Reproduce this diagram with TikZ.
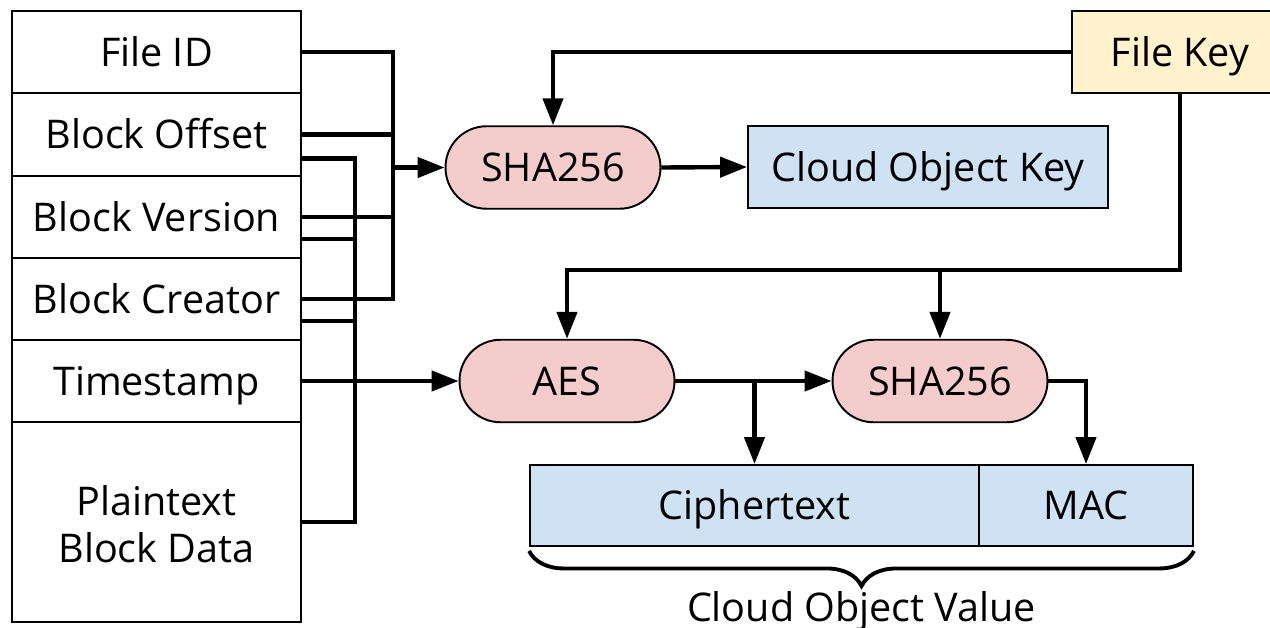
\documentclass[tikz,border=0pt]{standalone}
\usepackage{fontspec}
\setmainfont{Open Sans}
\usepackage{tikz}
\usetikzlibrary{calc,arrows.meta,decorations.pathreplacing}
\definecolor{hashfill}{HTML}{F4CCCC}
\definecolor{outfill}{HTML}{CFE2F3}
\definecolor{keyfill}{HTML}{FFF2CC}
\tikzset{
  txt/.style={font=\fontsize{22.5}{27}\selectfont, text height=16pt, text depth=0pt},
  field/.style={draw=black, line width=1.1pt, fill=white, minimum width=5.78cm, minimum height=1.64cm, inner sep=0pt, align=center},
  op/.style={draw=black, line width=1.1pt, fill=hashfill, rounded corners=0.82cm, minimum width=4.3cm, minimum height=1.65cm, inner sep=0pt},
  outbox/.style={draw=black, line width=1.1pt, fill=outfill, minimum height=1.62cm, inner sep=0pt},
  wire/.style={draw=black, line width=2.5pt},
  arr/.style={wire, -{Triangle[length=5.4mm,width=4mm]}},
  brc/.style={draw=black, line width=2.2pt, decorate, decoration={brace, mirror, amplitude=0.7cm, raise=0.08cm}},
}

\begin{document}
\begin{tikzpicture}[x=0.02cm, y=-0.02cm, every node/.style={txt}]
  \useasboundingbox (0,0) rectangle (1270,628);
  % block fields
  \node[field] (fid) at (156.5,52) {File ID};
  \node[field] (offset) at (156.5,134.5) {Block Offset};
  \node[field] (version) at (156.5,217) {Block Version};
  \node[field] (creator) at (156.5,299) {Block Creator};
  \node[field] (stamp) at (156.5,381) {Timestamp};
  \node[field, minimum height=4cm, text height=46.5pt] (plain) at (156.5,522) {Plaintext\\Block Data};
  % operations and outputs
  \node[op] (hashkey) at (553,167.5) {SHA256};
  \node[outbox, minimum width=7.2cm, minimum height=1.64cm] (objkey) at (928,167) {Cloud Object Key};
  \node[draw=black, line width=1.1pt, fill=keyfill, minimum width=4.32cm, minimum height=1.64cm] (filekey) at (1180,52) {File Key};
  \node[op] (aes) at (567,381) {AES};
  \node[op] (hashmac) at (940,381) {SHA256};
  \node[outbox, minimum width=8.98cm] (cipher) at (754.5,505.5) {Ciphertext};
  \node[outbox, minimum width=4.28cm] (mac) at (1086,505.5) {MAC};
  % key path
  \coordinate (b1) at (393,167.5);
  \foreach \f in {fid,offset,version,creator}{\draw[wire] (\f.east) -| (b1);}
  \draw[arr] (b1) -- (hashkey.west);
  \draw[arr] (hashkey.east) -- (objkey.west);
  \draw[arr] (filekey.west) -| (hashkey.north);
  % value path
  \coordinate (b2) at (355,381);
  \coordinate (offset2) at ($(offset.east)+(0,24)$);
  \coordinate (version2) at ($(version.east)+(0,22)$);
  \coordinate (creator2) at ($(creator.east)+(0,22)$);
  \foreach \f in {offset2,version2,creator2,plain.east}{\draw[wire] (\f) -| (b2);}
  \draw[arr] (stamp.east) -- (aes.west);
  \coordinate (kj) at (940,270);
  \draw[arr] (filekey.south) |- (kj) -| (aes.north);
  \draw[arr] (kj) -- (hashmac.north);
  \coordinate (aj) at (cipher.north |- aes.east);
  \draw[arr] (aes.east) -- (hashmac.west);
  \draw[arr] (aj) -- (cipher.north);
  \draw[arr] (hashmac.east) -| (mac.north);
  \draw[brc] (cipher.south west) -- (mac.south east);
  \node (objval) at (861.5,607) {Cloud Object Value};
\end{tikzpicture}
\end{document}
